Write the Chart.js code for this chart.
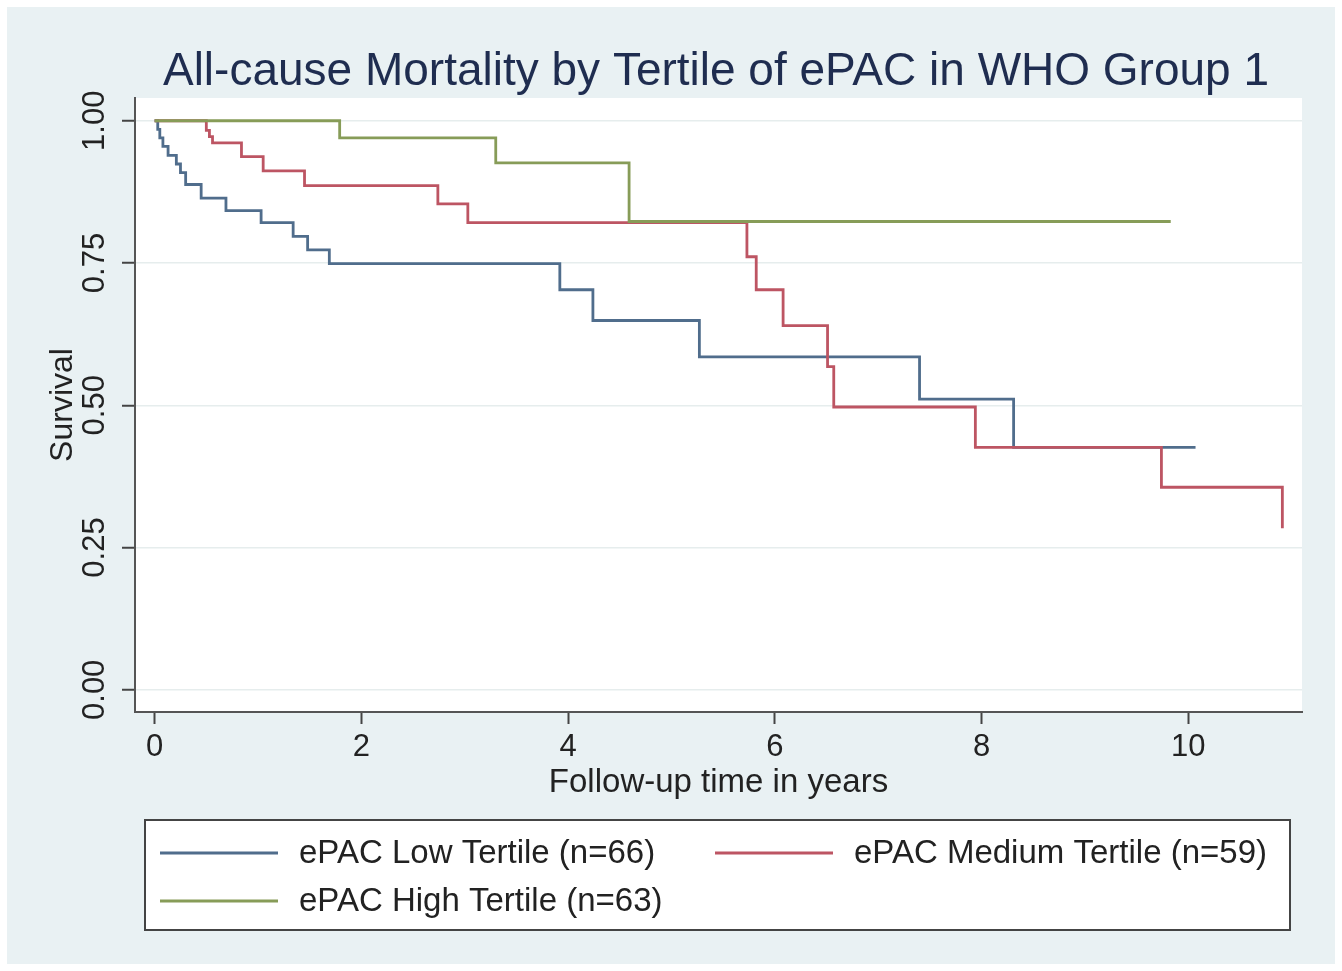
<!DOCTYPE html>
<html>
<head>
<meta charset="utf-8">
<title>All-cause Mortality by Tertile of ePAC</title>
<script src="https://cdn.jsdelivr.net/npm/chart.js@4.4.1/dist/chart.umd.min.js"></script>
<style>
  html, body { margin: 0; padding: 0; background: #ffffff; }
</style>
</head>
<body>
<canvas id="kmChart" width="1342" height="971"></canvas>
<script>
// Kaplan-Meier step points (time in years, survival)
const lowTime  = [0, 0.03, 0.05, 0.08, 0.13, 0.21, 0.25, 0.30, 0.45, 0.69, 1.03, 1.34, 1.48, 1.69, 3.92, 4.24, 5.27, 7.40, 8.31, 10.07];
const lowSurv  = [1.0, 0.985, 0.970, 0.955, 0.939, 0.924, 0.909, 0.888, 0.864, 0.842, 0.821, 0.797, 0.773, 0.749, 0.703, 0.649, 0.585, 0.511, 0.426, 0.426];

const medTime  = [0, 0.50, 0.53, 0.56, 0.84, 1.05, 1.45, 2.74, 3.03, 5.73, 5.82, 6.08, 6.51, 6.57, 7.94, 9.74, 10.91];
const medSurv  = [1.0, 0.983, 0.972, 0.961, 0.937, 0.912, 0.886, 0.854, 0.821, 0.761, 0.703, 0.640, 0.568, 0.497, 0.426, 0.356, 0.284];

const highTime = [0, 1.79, 3.30, 4.59, 9.83];
const highSurv = [1.0, 0.970, 0.926, 0.823, 0.823];

const seriesLabels = ['ePAC Low Tertile (n=66)', 'ePAC Medium Tertile (n=59)', 'ePAC High Tertile (n=63)'];
const xTicks = [0, 2, 4, 6, 8, 10];
const yTicks = [0, 0.25, 0.5, 0.75, 1];

const FONT = '"Liberation Sans", Arial, Helvetica, sans-serif';

function toPoints(t, s) {
  return t.map((v, i) => ({ x: v, y: s[i] }));
}

// stata-ish background, plot region, title and boxed legend
const stataLook = {
  id: 'stataLook',
  beforeDraw(chart) {
    const c = chart.ctx, a = chart.chartArea;
    c.save();
    c.fillStyle = '#ffffff';
    c.fillRect(0, 0, chart.width, chart.height);
    c.fillStyle = '#e9f1f3';
    c.fillRect(7, 7, chart.width - 14, chart.height - 14);
    c.fillStyle = '#ffffff';
    c.fillRect(a.left, a.top, a.right - a.left, a.bottom - a.top);
    c.restore();
  },
  afterDraw(chart) {
    const c = chart.ctx;
    c.save();
    // title
    c.fillStyle = '#1f2d50';
    c.font = '46px ' + FONT;
    c.textAlign = 'center';
    c.textBaseline = 'middle';
    c.fillText('All-cause Mortality by Tertile of ePAC in WHO Group 1', 716, 72);

    // legend box
    c.fillStyle = '#ffffff';
    c.fillRect(145, 820, 1145, 110);
    c.strokeStyle = '#444444';
    c.lineWidth = 2;
    c.strokeRect(145, 820, 1145, 110);

    const slots = [[160, 853], [715, 853], [160, 901]];
    c.font = '33px ' + FONT;
    c.textAlign = 'left';
    chart.data.datasets.forEach((ds, i) => {
      const [lx, ly] = slots[i];
      c.strokeStyle = ds.borderColor;
      c.lineWidth = 2.8;
      c.beginPath();
      c.moveTo(lx, ly);
      c.lineTo(lx + 118, ly);
      c.stroke();
      c.fillStyle = '#222222';
      c.fillText(ds.label, lx + 139, ly + 1);
    });
    c.restore();
  }
};

const ctx = document.getElementById('kmChart').getContext('2d');

const kmChart = new Chart(ctx, {
  type: 'line',
  data: {
    datasets: [
      {
        label: seriesLabels[0],
        data: toPoints(lowTime, lowSurv),
        borderColor: '#506d8c',
        order: 3
      },
      {
        label: seriesLabels[1],
        data: toPoints(medTime, medSurv),
        borderColor: '#bd5563',
        order: 2
      },
      {
        label: seriesLabels[2],
        data: toPoints(highTime, highSurv),
        borderColor: '#879c58',
        order: 1
      }
    ]
  },
  options: {
    responsive: false,
    animation: false,
    elements: {
      line: { stepped: true, borderWidth: 2.8, fill: false, tension: 0 },
      point: { radius: 0, hoverRadius: 0 }
    },
    layout: { padding: { left: 0, right: 40, top: 98, bottom: 159 } },
    plugins: {
      legend: { display: false },
      title: { display: false },
      tooltip: { enabled: false }
    },
    scales: {
      x: {
        type: 'linear',
        min: -0.19,
        max: 11.1,
        afterBuildTicks: s => { s.ticks = xTicks.map(v => ({ value: v })); },
        afterFit: s => { s.height = 100; },
        ticks: {
          autoSkip: false, minRotation: 0, maxRotation: 0, padding: 5,
          color: '#222222', font: { family: FONT, size: 31 }
        },
        grid: { drawOnChartArea: false, tickLength: 12, tickColor: '#444444', tickWidth: 2 },
        border: { color: '#555555', width: 2 },
        title: {
          display: true, text: 'Follow-up time in years', color: '#222222',
          font: { family: FONT, size: 33 }, padding: { top: 0, bottom: 9 }
        }
      },
      y: {
        type: 'linear',
        min: -0.039,
        max: 1.04,
        afterBuildTicks: s => { s.ticks = yTicks.map(v => ({ value: v })); },
        afterFit: s => { s.width = 135; },
        ticks: {
          autoSkip: false, minRotation: 90, maxRotation: 90, crossAlign: 'center', padding: -4,
          color: '#222222', font: { family: FONT, size: 31 },
          callback: v => v.toFixed(2)
        },
        grid: { color: '#e6eded', lineWidth: 1.5, tickLength: 13, tickColor: '#444444', tickWidth: 2 },
        border: { color: '#555555', width: 2 },
        title: {
          display: true, text: 'Survival', color: '#222222',
          font: { family: FONT, size: 32 }, padding: { top: 44, bottom: 0 }
        }
      }
    }
  },
  plugins: [stataLook]
});
</script>
</body>
</html>
